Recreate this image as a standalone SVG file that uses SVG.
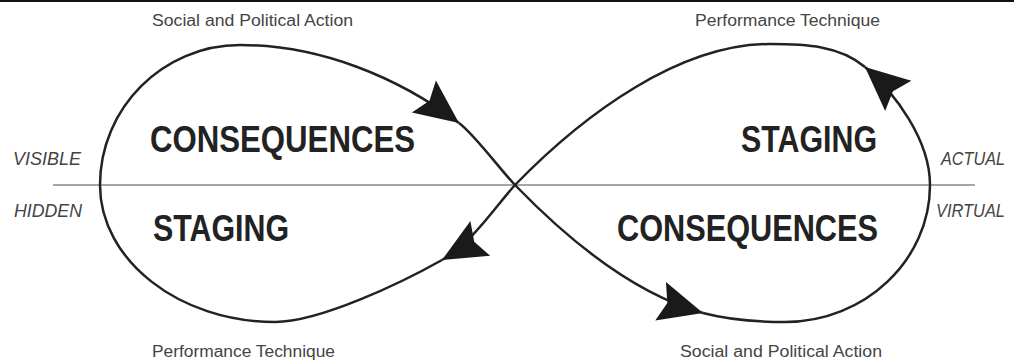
<svg xmlns="http://www.w3.org/2000/svg" width="1014" height="364" viewBox="0 0 1014 364">
<style>
.small{font-family:"Liberation Sans",Arial,sans-serif;font-size:16px;fill:#444}
.side{font-family:"Liberation Sans",Arial,sans-serif;font-size:19px;font-style:italic;fill:#444}
.big{font-family:"Liberation Sans",Arial,sans-serif;font-size:37px;font-weight:bold;fill:#222}
.curve{fill:none;stroke:#222;stroke-width:2.5}
</style>
<defs>
<marker id="arr" markerUnits="userSpaceOnUse" viewBox="-46 -22 50 44" refX="0" refY="0" markerWidth="50" markerHeight="44" orient="auto">
<path d="M0,0 L-44,-20 L-37,0 L-44,20 Z" fill="#1a1a1a"/>
</marker>
</defs>
<rect width="1014" height="364" fill="#fff"/>
<line x1="0" y1="1" x2="1014" y2="1" stroke="#111" stroke-width="2"/>
<line x1="53" y1="185" x2="975" y2="185" stroke="#888" stroke-width="1.5"/>
<g id="connectors">
<path class="curve" d="M515,185 C495,207 472,243 442,260" marker-end="url(#arr)"/>
<path class="curve" d="M442,260 C402,282.5 320,322 275,322 C179,322 100,260 100,185 C100,108 163,45 240,45 C320,45 398,77 459,123" marker-end="url(#arr)"/>
<path class="curve" d="M459,123 C474,134 501,170.5 515,185 C545,216 620,290 703,313" marker-end="url(#arr)"/>
<path class="curve" d="M703,313 C728,319.6 758,322 785,322 C865,322 930,260 930,185 C930,140 895,93 865,67" marker-end="url(#arr)"/>
<path class="curve" d="M865,67 C840,45.4 805,44 770,44 C680,44 585,113 515,185"/>
</g>
<g id="node-consequences-left"><text class="big" x="150" y="152" textLength="265" lengthAdjust="spacingAndGlyphs">CONSEQUENCES</text></g>
<g id="node-staging-left"><text class="big" x="153" y="241" textLength="136" lengthAdjust="spacingAndGlyphs">STAGING</text></g>
<g id="node-staging-right"><text class="big" x="741" y="152" textLength="136" lengthAdjust="spacingAndGlyphs">STAGING</text></g>
<g id="node-consequences-right"><text class="big" x="617" y="241" textLength="261" lengthAdjust="spacingAndGlyphs">CONSEQUENCES</text></g>
<g id="labels">
<text class="small" x="152" y="26" textLength="201" lengthAdjust="spacingAndGlyphs">Social and Political Action</text>
<text class="small" x="695" y="26" textLength="185" lengthAdjust="spacingAndGlyphs">Performance Technique</text>
<text class="small" x="152" y="357" textLength="183" lengthAdjust="spacingAndGlyphs">Performance Technique</text>
<text class="small" x="680" y="357" textLength="202" lengthAdjust="spacingAndGlyphs">Social and Political Action</text>
<text class="side" x="13" y="165" textLength="68" lengthAdjust="spacingAndGlyphs">VISIBLE</text>
<text class="side" x="14" y="217" textLength="68" lengthAdjust="spacingAndGlyphs">HIDDEN</text>
<text class="side" x="941" y="165" textLength="64" lengthAdjust="spacingAndGlyphs">ACTUAL</text>
<text class="side" x="936" y="217" textLength="69" lengthAdjust="spacingAndGlyphs">VIRTUAL</text>
</g>
</svg>
